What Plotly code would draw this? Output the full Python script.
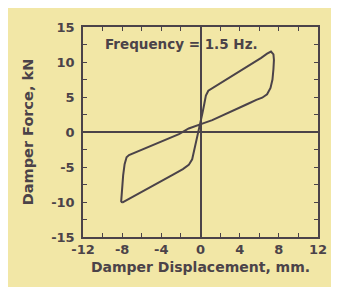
import plotly.graph_objects as go

# Hysteresis loop: damper displacement (mm) vs damper force (kN)
disp = [-8.0, -6.8, -5.5, -4.2, -2.8, -1.8, -1.2, -0.85, -0.6, -0.4, -0.2, 0.0, 0.2, 0.4,
        0.55, 0.8, 1.5, 2.2, 3.0, 3.8, 4.6, 5.4, 6.2, 6.8, 7.2, 7.45, 7.5, 7.45, 7.35, 7.15,
        6.8, 6.3, 5.7, 4.8, 3.9, 3.0, 2.0, 1.2, 0.4, -0.4, -1.2, -2.2, -3.2, -4.4, -5.4,
        -6.2, -6.9, -7.3, -7.55, -7.75, -7.9, -8.0, -8.08, -8.1, -8.0]
force = [-10.1, -9.2, -8.2, -7.2, -6.1, -5.3, -4.7, -3.9, -2.4, -1.2, 0.2, 1.4, 2.7, 4.1,
         5.2, 5.9, 6.5, 7.1, 7.8, 8.5, 9.2, 9.9, 10.6, 11.2, 11.5, 11.1, 10.3, 9.0, 7.5, 6.3,
         5.4, 4.9, 4.6, 4.0, 3.4, 2.9, 2.2, 1.7, 1.3, 0.9, 0.5, -0.3, -0.9, -1.6, -2.2,
         -2.7, -3.1, -3.3, -3.6, -4.6, -6.2, -7.8, -9.2, -9.9, -10.1]

x_tickvals = [-12, -10, -8, -6, -4, -2, 0, 2, 4, 6, 8, 10, 12]
x_ticktext = ["-12", "", "-8", "", "-4", "", "0", "", "4", "", "8", "", "12"]
y_tickvals = [-15, -12.5, -10, -7.5, -5, -2.5, 0, 2.5, 5, 7.5, 10, 12.5, 15]
y_ticktext = ["-15", "", "-10", "", "-5", "", "0", "", "5", "", "10", "", "15"]

ink = "#4b4349"
bg = "#f2e7a6"
FONT = "DejaVu Sans"

fig = go.Figure()
fig.add_trace(go.Scatter(x=disp, y=force, mode="lines",
                         line=dict(color=ink, width=2), showlegend=False,
                         hoverinfo="skip"))

fig.add_annotation(x=-1.9, y=12.6, text="Frequency = 1.5 Hz.", showarrow=False,
                   font=dict(family=FONT, size=13.5, color=ink, weight="bold"))

axis_common = dict(
    showgrid=False, zeroline=True, zerolinecolor=ink, zerolinewidth=1.5,
    showline=True, linecolor=ink, linewidth=1.5, mirror="ticks",
    ticks="inside", ticklen=4, tickwidth=1, tickcolor=ink,
    tickfont=dict(family=FONT, size=13, color=ink, weight="bold"),
)

fig.update_xaxes(range=[-12, 12], tickvals=x_tickvals, ticktext=x_ticktext,
                 title=dict(text="Damper Displacement, mm.", standoff=6,
                            font=dict(family=FONT, size=14, color=ink, weight="bold")),
                 **axis_common)
fig.update_yaxes(range=[-15, 15], tickvals=y_tickvals, ticktext=y_ticktext,
                 ticklabelstandoff=4,
                 title=dict(text="Damper Force, kN", standoff=14,
                            font=dict(family=FONT, size=14.5, color=ink, weight="bold")),
                 **axis_common)

fig.update_layout(width=331, height=279, margin=dict(l=75, r=14, t=18, b=50),
                  paper_bgcolor=bg, plot_bgcolor=bg)

fig.write_html("out.html")
